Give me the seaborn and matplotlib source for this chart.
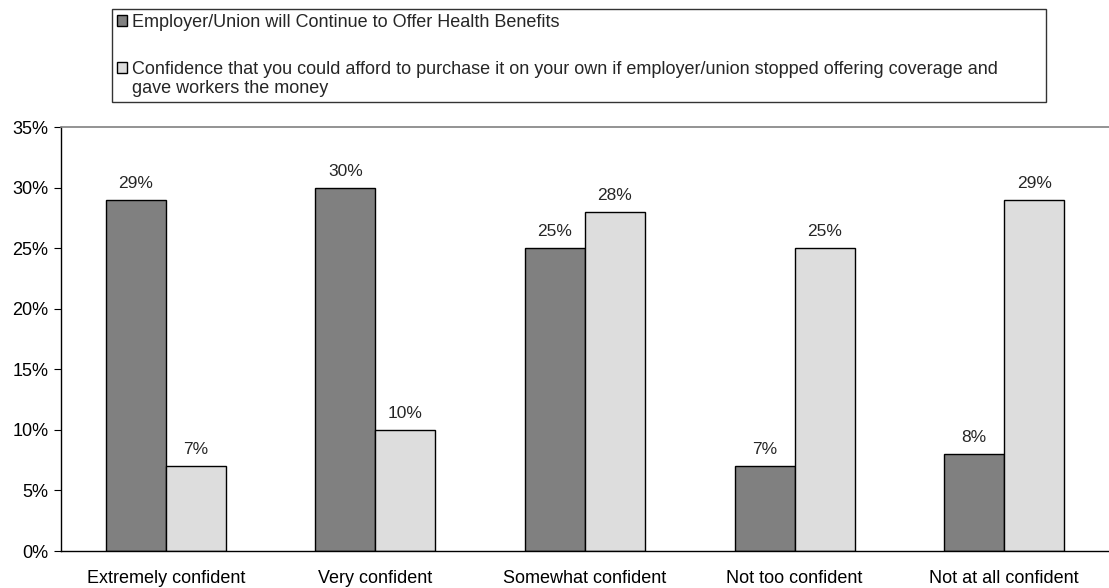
import matplotlib
matplotlib.use("Agg")
import matplotlib.pyplot as plt
from matplotlib.legend_handler import HandlerPatch
from matplotlib.patches import Rectangle
from matplotlib.ticker import FixedLocator, FuncFormatter
import pandas as pd
import seaborn as sns

categories = ["Extremely confident", "Very confident", "Somewhat confident",
              "Not too confident", "Not at all confident"]
series_names = [
    "Employer/Union will Continue to Offer Health Benefits",
    "Confidence that you could afford to purchase it on your own if employer/union stopped offering coverage and\ngave workers the money",
]
employer_values = [29, 30, 25, 7, 8]
afford_values = [7, 10, 28, 25, 29]
y_ticks = [0, 5, 10, 15, 20, 25, 30, 35]

df = pd.DataFrame({
    "category": categories * 2,
    "series": [series_names[0]] * 5 + [series_names[1]] * 5,
    "value": employer_values + afford_values,
})

sns.set_style("white")
plt.rcParams["font.family"] = ["Liberation Sans", "DejaVu Sans"]

fig = plt.figure(figsize=(11.09, 5.88), dpi=100)
ax = fig.add_axes([61 / 1109, 1 - 551 / 588, 1 - 61 / 1109, (551 - 127) / 588])

sns.barplot(data=df, x="category", y="value", hue="series", order=categories,
            hue_order=series_names, palette=["#808080", "#DDDDDD"],
            width=0.572, edgecolor="black", linewidth=1.0, saturation=1,
            ax=ax, legend=True)

for container in ax.containers:
    ax.bar_label(container, labels=[f"{v:.0f}%" for v in container.datavalues],
                 padding=6.5, fontsize=12.5)

ax.set_xlim(-0.5, 4.5)
ax.set_ylim(0, 35)
ax.yaxis.set_major_locator(FixedLocator(y_ticks))
ax.yaxis.set_major_formatter(FuncFormatter(lambda v, p: f"{v:.0f}%"))
ax.set_xticks(range(len(categories)))
ax.set_xticklabels(categories)
ax.set_xticks([i - 0.5 for i in range(len(categories) + 1)], minor=True)
ax.tick_params(axis="x", which="major", length=0, pad=14, labelsize=13, colors="black")
ax.tick_params(axis="x", which="minor", length=5, width=0.8, direction="out", color="black")
ax.tick_params(axis="y", length=5, width=0.8, direction="out", left=True,
               labelsize=13, colors="black", pad=4)
ax.set_xlabel("")
ax.set_ylabel("")

for side in ("left", "bottom"):
    ax.spines[side].set_color("black")
    ax.spines[side].set_linewidth(1.0)
ax.spines["right"].set_visible(False)
ax.spines["top"].set_color("#808080")
ax.spines["top"].set_linewidth(1.2)


def raised_square(legend, orig_handle, xdescent, ydescent, width, height, fontsize):
    # keep the swatch level with the first line of a two-line label
    return Rectangle((-xdescent, -ydescent + 0.62 * fontsize), width, height)


handles, labels = ax.get_legend_handles_labels()
ax.get_legend().remove()
leg = fig.legend(handles, labels, loc="upper left", mode="expand",
                 bbox_to_anchor=(112 / 1109, 1 - 101 / 588, (1046 - 112) / 1109, (101 - 9) / 588),
                 frameon=True, fancybox=False, fontsize=13, handlelength=0.55,
                 handleheight=0.55, handletextpad=0.3, labelspacing=1.65,
                 borderpad=0.27, borderaxespad=0,
                 handler_map={handles[1]: HandlerPatch(patch_func=raised_square)})
leg.get_frame().set_edgecolor("black")
leg.get_frame().set_linewidth(1.0)
for t in leg.get_texts():
    t.set_linespacing(1.2)

fig.savefig("out.png", dpi=100)
